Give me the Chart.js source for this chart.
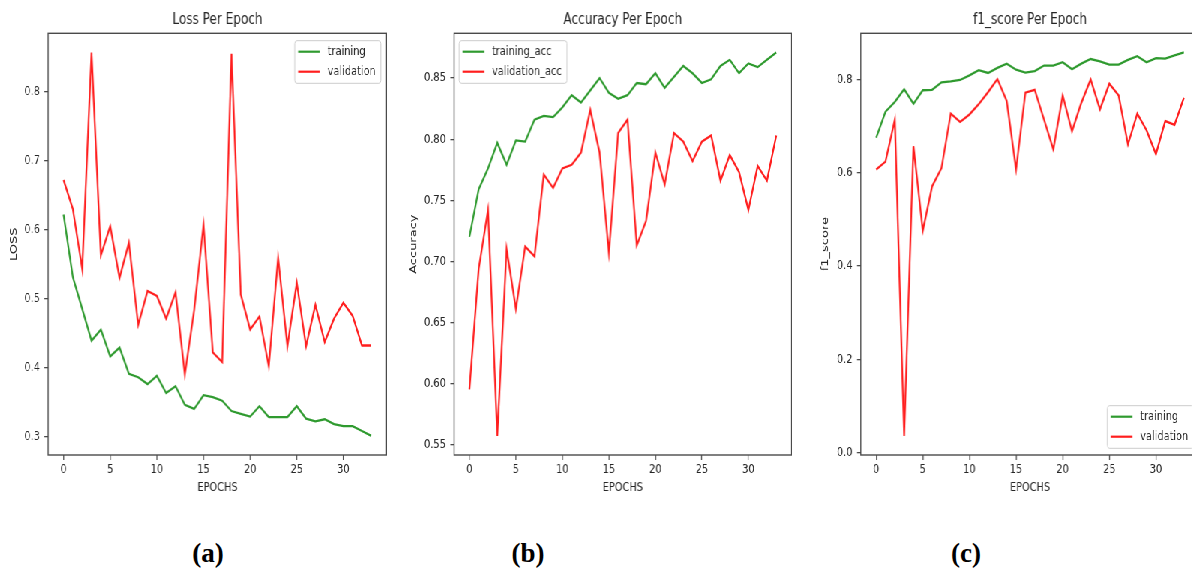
<!DOCTYPE html>
<html>
<head>
<meta charset="utf-8">
<script src="https://cdn.jsdelivr.net/npm/chart.js@4"></script>
<style>
  html, body { margin: 0; padding: 0; background: #fff; }
  body { width: 1192px; height: 570px; overflow: hidden; position: relative; }
  #squeeze { position: absolute; left: 0; top: 0; height: 500px; transform-origin: 0 0; }
  .plot { position: absolute; top: 0; height: 500px; }
  .cap { position: absolute; top: 540px; font: bold 27px/27px "Liberation Serif", serif; color: #000; transform: translateX(-50%); }
</style>
</head>
<body>
<div id="squeeze">
  <div class="plot" id="w1"><canvas id="loss"></canvas></div>
  <div class="plot" id="w2"><canvas id="acc"></canvas></div>
  <div class="plot" id="w3"><canvas id="f1"></canvas></div>
</div>
<div class="cap" style="left:208px">(a)</div>
<div class="cap" style="left:528px">(b)</div>
<div class="cap" style="left:966px">(c)</div>
<script>
const epochs = [0,1,2,3,4,5,6,7,8,9,10,11,12,13,14,15,16,17,18,19,20,21,22,23,24,25,26,27,28,29,30,31,32,33];
const xTicks = [0,5,10,15,20,25,30];

const lossTrain = [0.622,0.531,0.485,0.439,0.455,0.416,0.429,0.391,0.386,0.376,0.388,0.363,0.373,0.346,0.340,0.360,0.357,0.352,0.337,0.333,0.329,0.344,0.328,0.328,0.328,0.344,0.326,0.322,0.325,0.318,0.315,0.315,0.308,0.301];
const lossVal = [0.672,0.630,0.543,0.857,0.563,0.605,0.530,0.581,0.462,0.511,0.504,0.471,0.509,0.390,0.483,0.607,0.422,0.408,0.855,0.506,0.455,0.474,0.402,0.559,0.431,0.523,0.431,0.491,0.437,0.471,0.494,0.475,0.432,0.432];
const lossTicks = [0.3,0.4,0.5,0.6,0.7,0.8];

const accTrain = [0.720,0.759,0.776,0.797,0.779,0.799,0.798,0.816,0.819,0.818,0.826,0.836,0.830,0.840,0.850,0.838,0.833,0.836,0.846,0.845,0.854,0.842,0.851,0.860,0.854,0.846,0.849,0.860,0.865,0.854,0.862,0.859,0.865,0.871];
const accVal = [0.595,0.694,0.742,0.557,0.710,0.661,0.712,0.704,0.771,0.760,0.776,0.779,0.789,0.824,0.789,0.707,0.805,0.816,0.713,0.733,0.789,0.763,0.805,0.798,0.782,0.798,0.803,0.766,0.787,0.773,0.742,0.778,0.766,0.803];
const accTicks = [0.55,0.60,0.65,0.70,0.75,0.80,0.85];

const f1Train = [0.675,0.731,0.752,0.779,0.748,0.777,0.778,0.794,0.796,0.799,0.809,0.820,0.814,0.825,0.834,0.821,0.815,0.818,0.830,0.830,0.837,0.822,0.834,0.844,0.839,0.832,0.832,0.842,0.850,0.837,0.846,0.845,0.852,0.858];
const f1Val = [0.607,0.624,0.714,0.036,0.657,0.476,0.571,0.610,0.727,0.709,0.725,0.747,0.773,0.801,0.754,0.607,0.772,0.778,0.714,0.650,0.766,0.689,0.750,0.800,0.736,0.791,0.766,0.661,0.727,0.691,0.640,0.711,0.703,0.761];
const f1Ticks = [0.0,0.2,0.4,0.6,0.8];

// the reference picture is squeezed horizontally, so draw wide and scale x down
const S = 0.75;
const GREEN = '#2f9a2f', RED = '#ff1e1e', INK = '#262626', AXIS = '#4a4a4a';

Chart.defaults.font.family = '"DejaVu Sans", sans-serif';
Chart.defaults.color = INK;

document.getElementById('squeeze').style.width = (1192 / S) + 'px';
document.getElementById('squeeze').style.transform = 'scaleX(' + S + ')';

// matplotlib style frame, title and boxed legend
const mplPlugin = {
  id: 'mpl',
  afterDatasetsDraw(chart, args, opts) {
    const ctx = chart.ctx, a = chart.chartArea;
    ctx.save();
    ctx.strokeStyle = AXIS;
    ctx.lineWidth = 1.4;
    ctx.strokeRect(a.left, a.top, a.right - a.left, a.bottom - a.top);

    ctx.fillStyle = INK;
    ctx.font = '16px "DejaVu Sans"';
    ctx.textAlign = 'center';
    ctx.textBaseline = 'middle';
    ctx.fillText(opts.title, (a.left + a.right) / 2, a.top - 13);

    ctx.font = '13px "DejaVu Sans"';
    const sets = chart.data.datasets;
    const textW = Math.max(...sets.map(d => ctx.measureText(d.label).width));
    const w = 4.5 + 29 + 10.3 + textW + 7, h = 42.6;
    let x = a.right - 7.6 - w, y = a.top + 7.4;
    if (opts.corner === 'ul') x = a.left + 6.7;
    if (opts.corner === 'lr') y = a.bottom - 6.7 - h;
    ctx.fillStyle = 'rgba(255,255,255,0.85)';
    ctx.strokeStyle = '#cccccc';
    ctx.lineWidth = 1;
    ctx.beginPath();
    ctx.roundRect(x, y, w, h, 3);
    ctx.fill();
    ctx.stroke();
    ctx.textAlign = 'left';
    sets.forEach((d, i) => {
      const ry = y + 11 + i * 20;
      ctx.strokeStyle = d.borderColor;
      ctx.lineWidth = 2.2;
      ctx.beginPath();
      ctx.moveTo(x + 4.5, ry);
      ctx.lineTo(x + 33.5, ry);
      ctx.stroke();
      ctx.fillStyle = INK;
      ctx.fillText(d.label, x + 43.8, ry);
    });
    ctx.restore();
  }
};

function padRange(arrs) {
  const all = [].concat(...arrs);
  const lo = Math.min(...all), hi = Math.max(...all), m = (hi - lo) * 0.05;
  return [lo - m, hi + m];
}

function makeChart(id, wrap, left, yw, right, title, yLabel, yTicks, dec, train, val, names, corner) {
  const el = document.getElementById(wrap);
  el.style.left = (left / S) + 'px';
  el.style.width = ((right - left) / S) + 'px';
  const [ymin, ymax] = padRange([train, val]);
  const [xmin, xmax] = padRange([epochs]);
  const tickGrid = { display: true, drawOnChartArea: false, drawTicks: true, tickLength: 5, color: AXIS, lineWidth: 1.3 };
  new Chart(document.getElementById(id), {
    type: 'line',
    data: {
      datasets: [
        { label: names[0], data: train.map((v, i) => ({ x: epochs[i], y: v })), borderColor: GREEN, borderWidth: 2.3, pointRadius: 0, tension: 0 },
        { label: names[1], data: val.map((v, i) => ({ x: epochs[i], y: v })), borderColor: RED, borderWidth: 2.3, pointRadius: 0, tension: 0 }
      ]
    },
    options: {
      responsive: true,
      maintainAspectRatio: false,
      animation: false,
      layout: { padding: { top: 33.3, left: 0, right: 0, bottom: 0 } },
      plugins: {
        legend: { display: false },
        tooltip: { enabled: false },
        mpl: { title: title, corner: corner }
      },
      scales: {
        x: {
          type: 'linear', min: xmin, max: xmax,
          afterFit: s => { s.height = 45; },
          afterBuildTicks: s => { s.ticks = xTicks.map(v => ({ value: v })); },
          grid: tickGrid,
          border: { display: false },
          ticks: { padding: 2, font: { size: 13 }, color: INK, maxRotation: 0, autoSkip: false, callback: v => String(v) },
          title: { display: true, text: 'EPOCHS', font: { size: 13 }, color: INK, padding: { top: 0, bottom: 5 } }
        },
        y: {
          type: 'linear', min: ymin, max: ymax,
          afterFit: s => { s.width = yw / S; },
          afterBuildTicks: s => { s.ticks = yTicks.map(v => ({ value: v })); },
          grid: tickGrid,
          border: { display: false },
          ticks: { padding: 6, font: { size: 13 }, color: INK, autoSkip: false, callback: v => v.toFixed(dec) },
          title: { display: true, text: yLabel, font: { size: 13 }, color: INK, padding: { top: 3, bottom: 0 } }
        }
      }
    },
    plugins: [mplPlugin]
  });
}

makeChart('loss', 'w1', 6, 42, 386.7, 'Loss Per Epoch', 'LOSS', lossTicks, 1, lossTrain, lossVal, ['training', 'validation'], 'ur');
makeChart('acc', 'w2', 406, 48.3, 792, 'Accuracy Per Epoch', 'Accuracy', accTicks, 2, accTrain, accVal, ['training_acc', 'validation_acc'], 'ul');
makeChart('f1', 'w3', 817.7, 43.3, 1199.7, 'f1_score Per Epoch', 'f1_score', f1Ticks, 1, f1Train, f1Val, ['training', 'validation'], 'lr');
</script>
</body>
</html>
